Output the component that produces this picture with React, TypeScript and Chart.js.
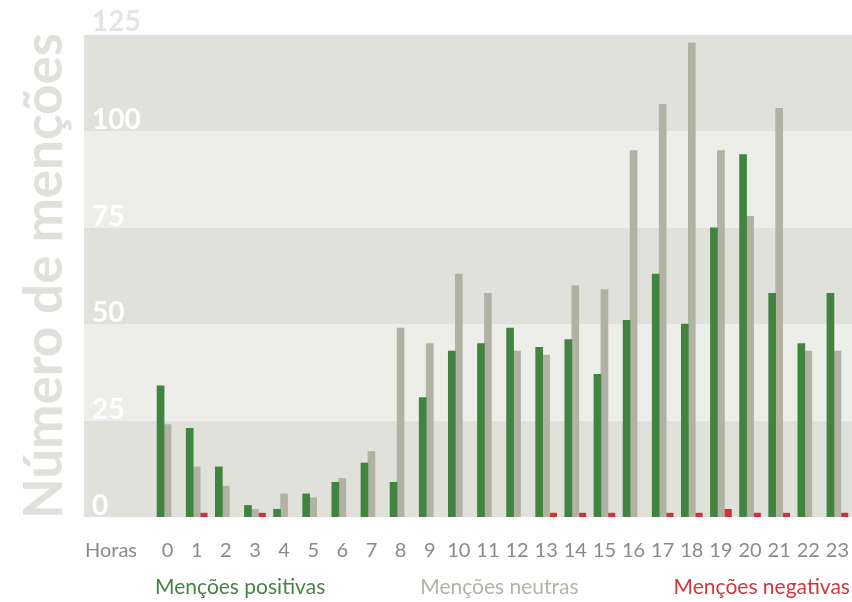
import React, { useEffect, useRef } from 'react';
import { Chart, registerables } from 'chart.js';

Chart.register(...registerables);

const hours = ['0', '1', '2', '3', '4', '5', '6', '7', '8', '9', '10', '11', '12', '13', '14', '15', '16', '17', '18', '19', '20', '21', '22', '23'];
const positive = [34, 23, 13, 3, 2, 6, 9, 14, 9, 31, 43, 45, 49, 44, 46, 37, 51, 63, 50, 75, 94, 58, 45, 58];
const neutral = [24, 13, 8, 2, 6, 5, 10, 17, 49, 45, 63, 58, 43, 42, 60, 59, 95, 107, 123, 95, 78, 106, 43, 43];
const negative = [0, 1, 0, 1, 0, 0, 0, 0, 0, 0, 0, 0, 0, 1, 1, 1, 0, 1, 1, 2, 1, 1, 0, 1];
const seriesLabels = ['Menções positivas', 'Menções neutras', 'Menções negativas'];
const yTickValues = [0, 25, 50, 75, 100, 125];
const xAxisLabel = 'Horas';
const yAxisTitle = 'Número de menções';

const COLORS = ['#41833f', '#b1b2a4', '#ce3337'];
const LEGEND_COLORS = ['#43863f', '#b3b4a8', '#d0383c'];
const BAND_DARK = '#e1e1dc';
const BAND_LIGHT = '#ededea';
const FONT = 'Lato, "Noto Sans", sans-serif';

const barColor = (color: string) => (c: any) => (c.raw === 0 ? 'rgba(0,0,0,0)' : color);

const decorPlugin = {
  id: 'decor',
  beforeDatasetsDraw(chart: any) {
    const { ctx } = chart;
    const y = chart.scales.y;
    ctx.save();
    for (let i = 0; i < yTickValues.length - 1; i++) {
      const y0 = y.getPixelForValue(yTickValues[i]);
      const y1 = y.getPixelForValue(yTickValues[i + 1]);
      ctx.fillStyle = i % 2 === 0 ? BAND_DARK : BAND_LIGHT;
      ctx.fillRect(84, y1, chart.width - 84, y0 - y1);
    }
    // y tick labels
    ctx.font = `bold 28px ${FONT}`;
    ctx.textAlign = 'left';
    ctx.textBaseline = 'alphabetic';
    const top = yTickValues[yTickValues.length - 1];
    yTickValues.forEach((v) => {
      const py = y.getPixelForValue(v);
      ctx.fillStyle = v === top ? '#e4e4e0' : '#ffffff';
      ctx.fillText(String(v), 92, py - (v === top ? 4 : 2));
    });
    ctx.restore();
  },
  afterDraw(chart: any) {
    const { ctx, chartArea } = chart;
    const x = chart.scales.x;
    ctx.save();
    // "Horas" label in line with the x tick labels
    ctx.font = `20px ${FONT}`;
    ctx.fillStyle = '#8a8a8a';
    ctx.textAlign = 'left';
    ctx.textBaseline = 'middle';
    ctx.fillText(xAxisLabel, 85, x.top + 22 + 12);
    // legend: coloured texts, centred over the plot area
    ctx.font = `21px ${FONT}`;
    ctx.textBaseline = 'alphabetic';
    const gap = 95;
    const widths = chart.data.datasets.map((d: any) => ctx.measureText(d.label).width);
    const total = widths.reduce((a: number, b: number) => a + b, 0) + gap * (widths.length - 1);
    let cx = (chartArea.left + chartArea.right) / 2 - total / 2;
    chart.data.datasets.forEach((d: any, i: number) => {
      ctx.fillStyle = LEGEND_COLORS[i];
      ctx.fillText(d.label, cx, 594);
      cx += widths[i] + gap;
    });
    ctx.restore();
  },
};

export default function App() {
  const ref = useRef<HTMLCanvasElement | null>(null);

  useEffect(() => {
    if (!ref.current) return;
    const chart = new Chart(ref.current, {
      type: 'bar',
      data: {
        labels: hours,
        datasets: [
          { label: seriesLabels[0], data: positive, backgroundColor: barColor(COLORS[0]), barThickness: 7 },
          { label: seriesLabels[1], data: neutral, backgroundColor: barColor(COLORS[1]), barThickness: 7 },
          { label: seriesLabels[2], data: negative, backgroundColor: barColor(COLORS[2]), barThickness: 7 },
        ],
      },
      options: {
        animation: false,
        responsive: true,
        maintainAspectRatio: false,
        layout: { padding: { top: 35, right: -3, bottom: 39, left: 0 } },
        plugins: {
          legend: { display: false },
          tooltip: { enabled: false },
        },
        scales: {
          x: {
            grid: { display: true, drawOnChartArea: false, drawTicks: true, tickLength: 22, color: 'rgba(0,0,0,0)' },
            border: { display: false },
            ticks: {
              autoSkip: false,
              maxRotation: 0,
              padding: 0,
              color: '#8a8a8a',
              font: { family: FONT, size: 20 },
            },
          },
          y: {
            min: 0,
            max: 125,
            grid: { display: false, drawTicks: false },
            border: { display: false },
            ticks: { display: false, stepSize: 25 },
            title: {
              display: true,
              text: yAxisTitle,
              color: '#e1e1dc',
              padding: { top: 13, bottom: 0 },
              font: { family: FONT, size: 53, weight: 'bold' },
            },
            afterFit: (s: any) => {
              s.width = 153;
            },
          },
        },
      },
      plugins: [decorPlugin],
    });
    return () => chart.destroy();
  }, []);

  return (
    <div style={{ position: 'fixed', left: 0, top: 0, width: 852, height: 602 }}>
      <canvas ref={ref} />
    </div>
  );
}
